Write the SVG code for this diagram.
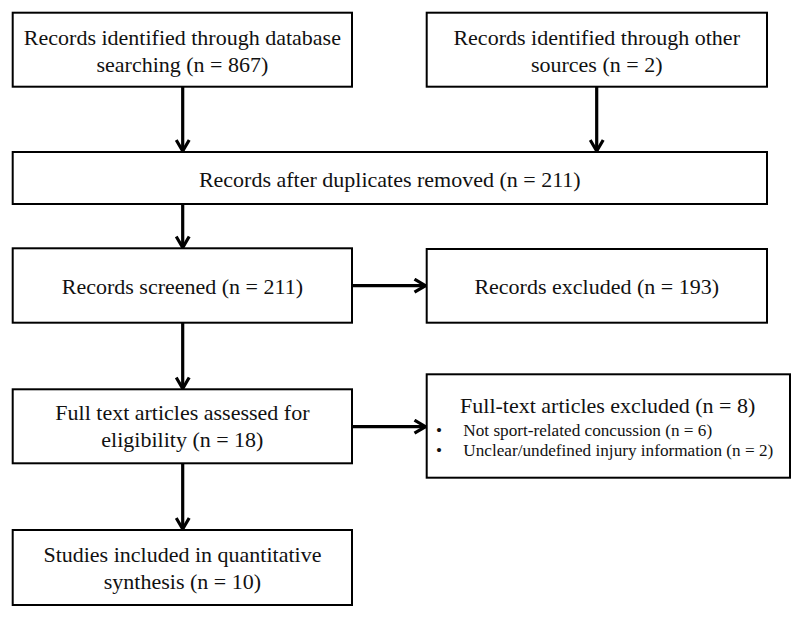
<svg xmlns="http://www.w3.org/2000/svg" width="800" height="620" viewBox="0 0 800 620">
<defs>
<style>
.box{fill:#fff;stroke:#000;stroke-width:2}
.t{font-family:"Liberation Serif","Times New Roman",serif;font-size:22px;fill:#111;text-anchor:middle}
.s{font-family:"Liberation Serif","Times New Roman",serif;font-size:17.2px;fill:#111}
.c{fill:none;stroke:#000;stroke-width:3.2}
</style>
<marker id="ah" markerUnits="userSpaceOnUse" viewBox="0 0 16 16" refX="13" refY="8" markerWidth="16" markerHeight="16" orient="auto">
<polyline points="2,1.5 13,8 2,14.5" fill="none" stroke="#000" stroke-width="3.2"/>
</marker>
</defs>
<rect width="800" height="620" fill="#fff"/>
<g id="connectors">
<line class="c" x1="182.7" y1="87" x2="182.7" y2="151" marker-end="url(#ah)"/>
<line class="c" x1="596.7" y1="87" x2="596.7" y2="151" marker-end="url(#ah)"/>
<line class="c" x1="182.7" y1="204" x2="182.7" y2="247.5" marker-end="url(#ah)"/>
<line class="c" x1="352" y1="285.7" x2="425.5" y2="285.7" marker-end="url(#ah)"/>
<line class="c" x1="182.7" y1="323" x2="182.7" y2="388.5" marker-end="url(#ah)"/>
<line class="c" x1="352" y1="426.7" x2="425.5" y2="426.7" marker-end="url(#ah)"/>
<line class="c" x1="182.7" y1="463.5" x2="182.7" y2="529" marker-end="url(#ah)"/>
</g>
<g id="n1">
<rect class="box" x="12.7" y="12.7" width="339.3" height="74"/>
<text class="t" x="182.4" y="45">Records identified through database</text>
<text class="t" x="182.4" y="71.7">searching (n = 867)</text>
</g>
<g id="n2">
<rect class="box" x="426.7" y="12.7" width="340.3" height="74"/>
<text class="t" x="596.7" y="45">Records identified through other</text>
<text class="t" x="596.7" y="71.7">sources (n = 2)</text>
</g>
<g id="n3">
<rect class="box" x="12.7" y="152" width="754.3" height="52"/>
<text class="t" x="389.8" y="186.5">Records after duplicates removed (n = 211)</text>
</g>
<g id="n4">
<rect class="box" x="12.7" y="248.3" width="339.3" height="74.4"/>
<text class="t" x="182.4" y="294">Records screened (n = 211)</text>
</g>
<g id="n5">
<rect class="box" x="426.7" y="249" width="340.3" height="73.7"/>
<text class="t" x="596.7" y="294">Records excluded (n = 193)</text>
</g>
<g id="n6">
<rect class="box" x="12.7" y="389.3" width="339.3" height="74"/>
<text class="t" x="182.4" y="420">Full text articles assessed for</text>
<text class="t" x="182.4" y="446.7">eligibility (n = 18)</text>
</g>
<g id="n7">
<rect class="box" x="426.7" y="374.3" width="363.3" height="103.4"/>
<text class="t" x="607.7" y="413.3">Full-text articles excluded (n = 8)</text>
<text class="s" x="436" y="436">•</text>
<text class="s" x="463.3" y="436">Not sport-related concussion (n = 6)</text>
<text class="s" x="436" y="456">•</text>
<text class="s" x="463.3" y="456">Unclear/undefined injury information (n = 2)</text>
</g>
<g id="n8">
<rect class="box" x="12.7" y="530" width="339.3" height="75"/>
<text class="t" x="182.4" y="561.7">Studies included in quantitative</text>
<text class="t" x="182.4" y="589">synthesis (n = 10)</text>
</g>
</svg>
